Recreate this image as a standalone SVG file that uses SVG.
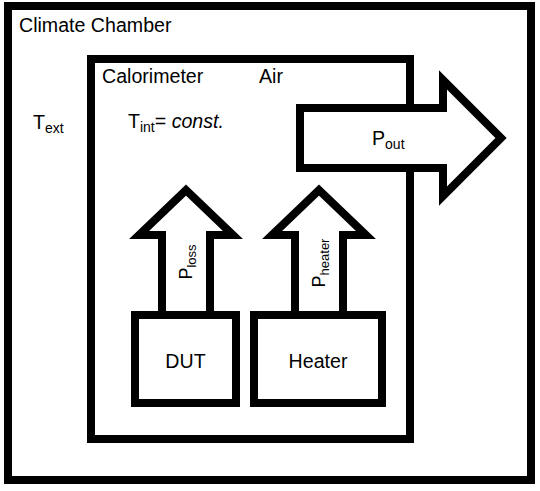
<svg xmlns="http://www.w3.org/2000/svg" width="540" height="491" viewBox="0 0 540 491">
<style>
.box{fill:#fff;stroke:#000;stroke-width:8;stroke-linejoin:miter;stroke-miterlimit:10}
.t{font-family:"Liberation Sans",Arial,sans-serif;font-size:19.6px;fill:#000}
.sub{font-size:14px}
.r{font-size:18px}
.rsub{font-size:13px}
</style>
<rect width="540" height="491" fill="#fff"/>
<g id="climate-chamber">
<rect class="box" x="8" y="6" width="523" height="474"/>
<text class="t" x="19" y="32">Climate Chamber</text>
<text class="t" x="33" y="129">T<tspan class="sub" dy="4">ext</tspan></text>
</g>
<g id="calorimeter">
<rect class="box" x="91" y="59" width="319" height="380"/>
<text class="t" x="102" y="83">Calorimeter</text>
<text class="t" x="259" y="83">Air</text>
<text class="t" x="128" y="128">T<tspan class="sub" dy="4">int</tspan><tspan dy="-4">= </tspan><tspan font-style="italic">const.</tspan></text>
</g>
<g id="connectors">
<g id="p-out">
<path class="box" d="M300,108 L443,108 L443,80 L501,138 L443,196 L443,168 L300,168 Z"/>
<text class="t" x="372" y="145">P<tspan class="sub" dy="4">out</tspan></text>
</g>
<g id="p-loss">
<path class="box" d="M162,318 L162,235 L139,235 L186,190 L233,235 L210,235 L210,318"/>
<text class="t r" transform="translate(192,262) rotate(-90)" text-anchor="middle">P<tspan class="rsub" dy="4">loss</tspan></text>
</g>
<g id="p-heater">
<path class="box" d="M295,318 L295,235 L272,235 L319,190 L366,235 L343,235 L343,318"/>
<text class="t r" transform="translate(325,263) rotate(-90)" text-anchor="middle">P<tspan class="rsub" dy="4">heater</tspan></text>
</g>
</g>
<g id="dut">
<rect class="box" x="135" y="315" width="101" height="88"/>
<text class="t" x="185.5" y="368" text-anchor="middle">DUT</text>
</g>
<g id="heater">
<rect class="box" x="254" y="315" width="128" height="88"/>
<text class="t" x="318" y="368" text-anchor="middle">Heater</text>
</g>
</svg>
